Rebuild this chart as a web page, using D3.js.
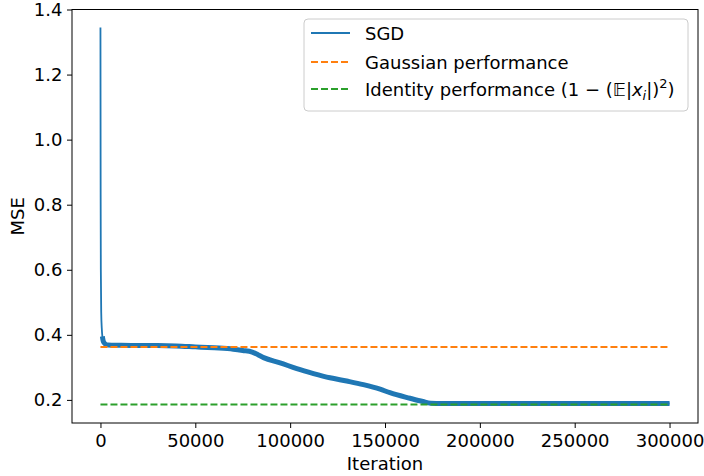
<!doctype html>
<head>
  <script src="https://d3js.org/d3.v7.min.js"></script>
  <style>
    body { margin: 0; background: #fff; }
    text { font-family: "DejaVu Sans", sans-serif; }
  </style>
</head>
<body>
<div id="viz"></div>
<script>

// SGD training curve
var iterations = [0, 100, 200, 400, 700, 1000, 1500, 2500, 4000, 10000, 20000, 30000, 40000,
  50000, 60000, 70000, 75000, 80000, 83000, 86000, 94700, 103500, 112300, 121000, 129800, 138600,
  147400, 152600, 163200, 170000, 174000, 180000, 200000, 250000, 300000]
var mse = [1.345, 0.83, 0.60, 0.47, 0.42, 0.395, 0.38, 0.372, 0.369, 0.368, 0.367, 0.367, 0.366,
  0.363, 0.360, 0.356, 0.352, 0.347, 0.339, 0.330, 0.314, 0.296, 0.281, 0.268, 0.258, 0.247,
  0.233, 0.222, 0.205, 0.195, 0.190, 0.189, 0.189, 0.189, 0.189]

var gaussianPerf = 0.3625
var identityPerf = 0.186
var refRange = [0, 300000]

var xTicks = [0, 50000, 100000, 150000, 200000, 250000, 300000]
var yTicks = [0.2, 0.4, 0.6, 0.8, 1.0, 1.2, 1.4]

var W = 704, H = 476
var mLeft = 72, mRight = 698, mTop = 9.5, mBottom = 423

var svg = d3.select('#viz').append('svg')
  .attr('width', W)
  .attr('height', H)

var x = d3.scaleLinear().domain([-15000, 315000]).range([mLeft, mRight])
var y = d3.scaleLinear().domain([0.129, 1.4]).range([mBottom, mTop])

var sgd = iterations.map(function(d, i) { return { it: d, v: mse[i] } })

var line = d3.line()
  .curve(d3.curveMonotoneX)
  .x(function(d) { return x(d.it) })
  .y(function(d) { return y(d.v) })

var plot = svg.append('g')

function refLine(v, color) {
  plot.append('line')
    .attr('x1', x(refRange[0])).attr('x2', x(refRange[1]))
    .attr('y1', y(v)).attr('y2', y(v))
    .style('stroke', color).style('stroke-width', 2)
    .style('stroke-dasharray', '7,3')
}

// SGD: thin line for the spike, thick noisy band after it
plot.append('path')
  .datum(sgd)
  .attr('d', line)
  .style('fill', 'none')
  .style('stroke', '#1f77b4')
  .style('stroke-width', 1.8)

plot.append('path')
  .datum(sgd.filter(function(d) { return d.it >= 1000 }))
  .attr('d', line)
  .style('fill', 'none')
  .style('stroke', '#1f77b4')
  .style('stroke-width', 5)
  .style('stroke-linejoin', 'round')

refLine(gaussianPerf, '#ff7f0e')
refLine(identityPerf, '#2ca02c')

// axes
var xAxis = svg.append('g')
  .attr('transform', 'translate(0,' + mBottom + ')')
  .call(d3.axisBottom(x).tickValues(xTicks).tickFormat(d3.format('d')).tickSize(5).tickSizeOuter(0))
var yAxis = svg.append('g')
  .attr('transform', 'translate(' + mLeft + ',0)')
  .call(d3.axisLeft(y).tickValues(yTicks).tickFormat(d3.format('.1f')).tickSize(5).tickSizeOuter(0))

;[xAxis, yAxis].forEach(function(a) {
  a.select('.domain').remove()
  a.selectAll('text').style('font-size', '18px').style('fill', '#000')
  a.selectAll('line').style('stroke', '#000').style('stroke-width', 1)
})
xAxis.selectAll('text').attr('dy', '0.71em').attr('y', 11.5)
yAxis.selectAll('text').attr('x', -9.5)

svg.append('rect')
  .attr('x', mLeft).attr('y', mTop)
  .attr('width', mRight - mLeft).attr('height', mBottom - mTop)
  .style('fill', 'none').style('stroke', '#000').style('stroke-width', 1)

svg.append('text')
  .attr('x', (mLeft + mRight) / 2).attr('y', 470)
  .attr('text-anchor', 'middle')
  .style('font-size', '18px')
  .text('Iteration')

svg.append('text')
  .attr('transform', 'translate(24,' + (mTop + mBottom) / 2 + ') rotate(-90)')
  .attr('text-anchor', 'middle')
  .style('font-size', '18px')
  .text('MSE')

// legend
var lg = svg.append('g')
lg.append('rect')
  .attr('x', 304).attr('y', 19).attr('width', 384).attr('height', 92)
  .attr('rx', 4)
  .style('fill', '#fff').style('fill-opacity', 0.8)
  .style('stroke', '#ccc').style('stroke-width', 1)

var entries = [
  { color: '#1f77b4', dash: null },
  { color: '#ff7f0e', dash: '7,3' },
  { color: '#2ca02c', dash: '7,3' }
]
var entryY = [33, 62, 89]
entries.forEach(function(e, i) {
  lg.append('line')
    .attr('x1', 311).attr('x2', 350)
    .attr('y1', entryY[i]).attr('y2', entryY[i])
    .style('stroke', e.color).style('stroke-width', 2)
    .style('stroke-dasharray', e.dash)
})

function label(yy) {
  return lg.append('text').attr('x', 365).attr('y', yy + 6.5).style('font-size', '18px')
}
label(entryY[0]).text('SGD')
label(entryY[1]).text('Gaussian performance')
var t = label(entryY[2])
t.append('tspan').text('Identity performance (1 \u2212 (')
t.append('tspan').text('\uD835\uDD3C')
t.append('tspan').text('|')
t.append('tspan').style('font-style', 'italic').text('x')
t.append('tspan').attr('dy', 4).style('font-size', '13px').style('font-style', 'italic').text('i')
t.append('tspan').attr('dy', -4).text('|)')
t.append('tspan').attr('dy', -8).style('font-size', '13px').text('2')
t.append('tspan').attr('dy', 8).text(')')

</script>
</body>
